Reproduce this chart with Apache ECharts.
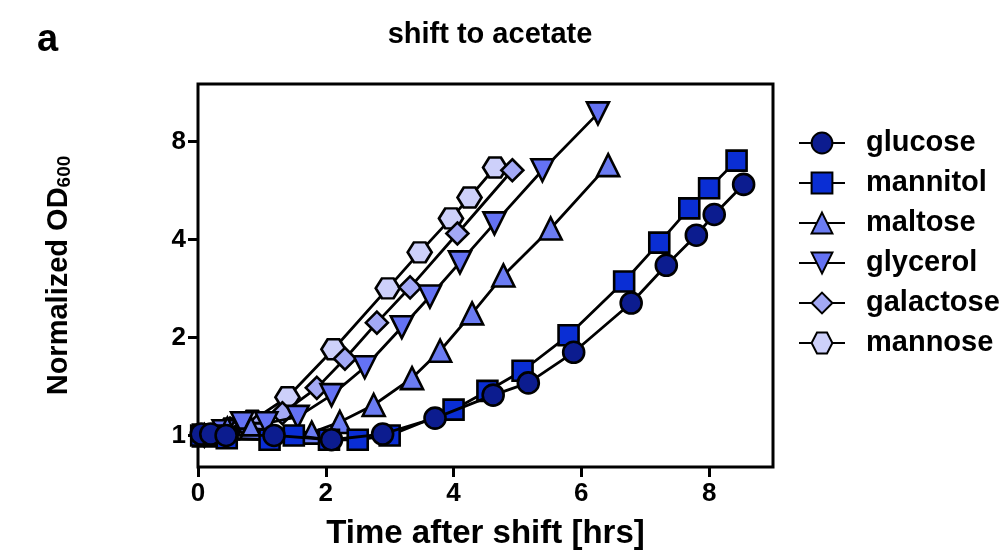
<!DOCTYPE html>
<html><head><meta charset="utf-8">
<script src="https://cdn.jsdelivr.net/npm/echarts@6/dist/echarts.min.js"></script>
<style>html,body{margin:0;padding:0;background:#fff}#c{width:1008px;height:555px}</style>
</head><body><div id="c"></div>
<script>
const seriesNames = ['glucose','mannitol','maltose','glycerol','galactose','mannose'];
const glucoseT = [0.05,0.2,0.44,1.19,2.09,2.89,3.71,4.62,5.17,5.88,6.78,7.33,7.80,8.08,8.54];
const glucoseV = [1.01,1.01,1.0,1.0,0.97,1.01,1.13,1.33,1.45,1.80,2.55,3.33,4.12,4.77,5.90];
const mannitolT = [0.05,0.2,0.45,1.12,1.5,2.05,2.5,3.0,4.0,4.53,5.08,5.8,6.67,7.22,7.69,8.0,8.43];
const mannitolV = [1.0,1.0,0.98,0.97,1.0,0.97,0.97,1.0,1.2,1.37,1.58,2.03,2.97,3.91,4.98,5.74,6.98];
const maltoseT = [0.1,0.46,0.83,1.78,2.22,2.75,3.35,3.79,4.29,4.78,5.52,6.42];
const maltoseV = [1.0,1.05,1.05,1.02,1.10,1.24,1.50,1.82,2.37,3.10,4.32,6.76];
const glycerolT = [0.1,0.4,0.69,1.07,1.56,2.09,2.61,3.19,3.63,4.10,4.64,5.39,6.26];
const glycerolV = [1.0,1.03,1.09,1.09,1.14,1.33,1.62,2.15,2.67,3.40,4.48,6.52,9.75];
const galactoseT = [0.1,0.5,0.95,1.32,1.86,2.30,2.80,3.32,4.06,4.92];
const galactoseV = [1.0,1.05,1.08,1.17,1.40,1.72,2.22,2.85,4.17,6.52];
const mannoseT = [0.1,0.5,0.85,1.40,2.12,2.97,3.47,3.96,4.25,4.65];
const mannoseV = [1.0,1.05,1.11,1.31,1.84,2.83,3.65,4.64,5.38,6.65];
const xTicks = [0,2,4,6,8];
const yTicks = [1,2,4,8];

const FONT = "'Liberation Sans', Arial, sans-serif";
const HEX = 'path://M0,5 L2.6,0 L7.4,0 L10,5 L7.4,10 L2.6,10 Z';
const styles = [
  {color:'#0c1c8f', symbol:'circle', size:21, rot:0},
  {color:'#0a2ed4', symbol:'rect', size:20, rot:0},
  {color:'#6b7cf2', symbol:'triangle', size:22, rot:0},
  {color:'#6472f4', symbol:'triangle', size:22, rot:180},
  {color:'#a3a9f5', symbol:'diamond', size:22, rot:0},
  {color:'#cdd0fa', symbol:HEX, size:[24,20], rot:0}
];
const Ts = [glucoseT, mannitolT, maltoseT, glycerolT, galactoseT, mannoseT];
const Vs = [glucoseV, mannitolV, maltoseV, glycerolV, galactoseV, mannoseV];

const series = seriesNames.map((n,i)=>({
  name:n, type:'line', z: 10 - i,
  data: Ts[i].map((t,j)=>[t, Vs[i][j]]),
  symbol: styles[i].symbol, symbolSize: styles[i].size, symbolRotate: styles[i].rot,
  showAllSymbol:true,
  lineStyle:{color:'#000', width:2.8},
  itemStyle:{color:styles[i].color, borderColor:'#000', borderWidth:2.6},
  emphasis:{disabled:true}, animation:false
}));

const chart = echarts.init(document.getElementById('c'), null, {renderer:'canvas'});
chart.setOption({
  animation:false,
  backgroundColor:'#fff',
  title:{text:'shift to acetate', left:485, top:15, textAlign:'center',
    textStyle:{fontFamily:FONT, fontWeight:'bold', fontSize:29, color:'#000'}},
  graphic:[{type:'text', left:37, top:22, style:{text:'a', font:"bold 38px 'Liberation Sans', Arial, sans-serif", fill:'#000'}}],
  legend:{orient:'vertical', left:793, top:123, itemWidth:46, itemHeight:26, itemGap:10,
    data:seriesNames,
    textStyle:{fontFamily:FONT, fontWeight:'bold', fontSize:29, color:'#000', lineHeight:30, padding:[0,0,0,16]}},
  grid:{left:198, right:235, top:84, bottom:87, show:true, borderColor:'#000', borderWidth:3, backgroundColor:'transparent'},
  xAxis:{type:'value', min:0, max:9,
    name:'Time after shift [hrs]', nameLocation:'middle', nameGap:50,
    nameTextStyle:{fontFamily:FONT, fontWeight:'bold', fontSize:33, color:'#000'},
    axisLine:{show:false}, splitLine:{show:false},
    axisTick:{show:true, inside:false, length:10, lineStyle:{color:'#000', width:3}, customValues:xTicks},
    axisLabel:{customValues:xTicks, margin:14, fontFamily:FONT, fontWeight:'bold', fontSize:26, color:'#000'}},
  yAxis:{type:'log', logBase:2, min:0.8, max:12,
    name:'Normalized OD{sub|600}', nameLocation:'middle', nameGap:124, nameRotate:90,
    nameTextStyle:{fontFamily:FONT, fontWeight:'bold', fontSize:29, color:'#000',
      rich:{sub:{fontFamily:FONT, fontWeight:'bold', fontSize:19, color:'#000', verticalAlign:'bottom', padding:[12,0,0,0]}}},
    axisLine:{show:false}, splitLine:{show:false}, minorTick:{show:false},
    axisTick:{show:true, inside:false, length:10, lineStyle:{color:'#000', width:3}, customValues:yTicks},
    axisLabel:{customValues:yTicks, margin:12, fontFamily:FONT, fontWeight:'bold', fontSize:26, color:'#000'}},
  series: series
});
</script></body></html>
